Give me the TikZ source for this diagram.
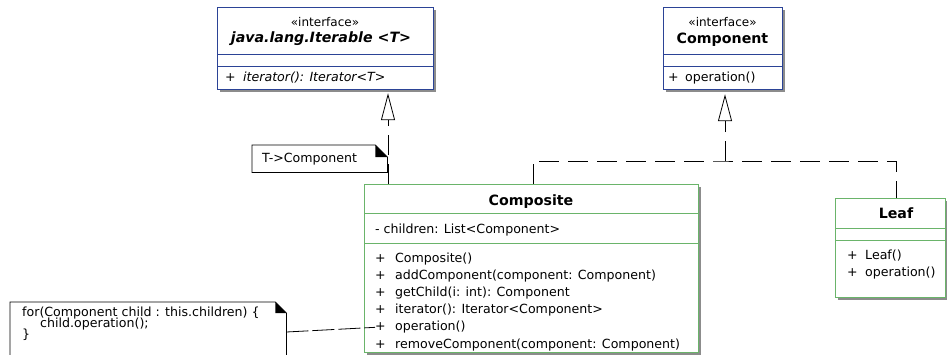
\documentclass[tikz,border=0pt]{standalone}
\usepackage{fontspec}
\setmainfont{DejaVu Sans}
\newfontfamily\umlfont{DejaVu Sans}
\newcommand\umlmember{\umlfont\fontsize{12.6}{14}\selectfont}
\newcommand\umlnotetext{\umlfont\fontsize{12.6}{11}\selectfont}
\newcommand\umltitle{\umlfont\fontsize{14.2}{16}\selectfont\bfseries}
\newcommand\umlstereo{\umlfont\fontsize{12}{13}\selectfont}
\usetikzlibrary{arrows.meta,shadows}
\definecolor{ifblue}{HTML}{2B4396}
\definecolor{clgreen}{HTML}{6AB46A}
\definecolor{shadowgray}{HTML}{8C8C8C}
\begin{document}
\begin{tikzpicture}[x=1pt,y=-1pt,
  ifbox/.style={draw=ifblue, line width=1.2pt, fill=white, inner sep=0pt, anchor=north west,
    drop shadow={shadow xshift=2pt, shadow yshift=-2pt, fill=shadowgray, opacity=1}},
  clbox/.style={draw=clgreen, line width=1.2pt, fill=white, inner sep=0pt, anchor=north west,
    drop shadow={shadow xshift=2pt, shadow yshift=-2pt, fill=shadowgray, opacity=1}},
  ifsep/.style={draw=ifblue, line width=1pt},
  clsep/.style={draw=clgreen, line width=1pt},
  notebox/.style={draw=none, inner sep=0pt, anchor=north west},
  noteoutline/.style={draw=black, line width=0.8pt, fill=white},
  stereo/.style={font=\umlstereo, anchor=base, inner sep=0pt},
  classtitle/.style={font=\umltitle, anchor=base, inner sep=0pt},
  member/.style={font=\umlmember, anchor=base west, inner sep=0pt},
  notetext/.style={font=\umlnotetext, anchor=base west, inner sep=0pt, align=left},
  realize/.style={draw=black, line width=0.8pt, dash pattern=on 20pt off 9pt,
    -{Triangle[open, length=27pt, width=14pt, line width=0.8pt]}},
  plainline/.style={draw=black, line width=0.8pt, dash pattern=on 20pt off 9pt},
  noteline/.style={draw=black, line width=0.8pt, dash pattern=on 22pt off 4pt}
]
\useasboundingbox (0,0) rectangle (947,354);
\clip (0,0) rectangle (947,354);

% ---------- java.lang.Iterable ----------
\node[ifbox, minimum width=216pt, minimum height=82pt] (iter) at (217,7) {};
\draw[ifsep] (iter.west |- 0,54) -- (iter.east |- 0,54);
\draw[ifsep] (iter.west |- 0,66) -- (iter.east |- 0,66);
\node[stereo] (iterS) at (325,26.5) {«interface»};
\node[classtitle] (iterT) at (321,42) {\itshape java.lang.Iterable <T>};
\node[member] (iterM) at (225,81.5) {\makebox[18pt][l]{+}\itshape iterator(): Iterator<T>};

% ---------- Component ----------
\node[ifbox, minimum width=119pt, minimum height=82pt] (compI) at (663,7) {};
\draw[ifsep] (compI.west |- 0,54) -- (compI.east |- 0,54);
\draw[ifsep] (compI.west |- 0,66) -- (compI.east |- 0,66);
\node[stereo] (compS) at (722.5,26.5) {«interface»};
\node[classtitle] (compT) at (722.5,43) {Component};
\node[member] (compM) at (668,81.5) {\makebox[17pt][l]{+}operation()};

% ---------- Composite ----------
\node[clbox, minimum width=334pt, minimum height=168pt] (comp) at (364,184) {};
\draw[clsep] (comp.west |- 0,213) -- (comp.east |- 0,213);
\draw[clsep] (comp.west |- 0,243) -- (comp.east |- 0,243);
\node[classtitle] (compoT) at (531,205) {Composite};
\node[member] (cattr) at (375,233.5) {- children: List<Component>};
\node[member] (cm1) at (375,262) {\makebox[20pt][l]{+}Composite()};
\node[member] (cm2) at (375,279.2) {\makebox[20pt][l]{+}addComponent(component: Component)};
\node[member] (cm3) at (375,296.4) {\makebox[20pt][l]{+}getChild(i: int): Component};
\node[member] (cm4) at (375,313.6) {\makebox[20pt][l]{+}iterator(): Iterator<Component>};
\node[member] (cop) at (375,330.8) {\makebox[20pt][l]{+}operation()};
\node[member] (cm6) at (375,348) {\makebox[20pt][l]{+}removeComponent(component: Component)};

% ---------- Leaf ----------
\node[clbox, minimum width=110pt, minimum height=99pt] (leaf) at (835,198) {};
\draw[clsep] (leaf.west |- 0,228) -- (leaf.east |- 0,228);
\draw[clsep] (leaf.west |- 0,240) -- (leaf.east |- 0,240);
\node[classtitle] (leafT) at (896,218) {Leaf};
\node[member] (lm1) at (847,259) {\makebox[18pt][l]{+}Leaf()};
\node[member] (lm2) at (847,276) {\makebox[18pt][l]{+}operation()};

% ---------- note T->Component ----------
\node[notebox, minimum width=135pt, minimum height=27pt] (n1) at (252,145) {};
\draw[noteoutline] (n1.south west) -- (n1.north west) -- ([xshift=-12pt]n1.north east)
  -- ([yshift=-12pt]n1.north east) -- (n1.south east) -- cycle;
\fill[black] ([xshift=-12pt]n1.north east) -- ([xshift=-12pt,yshift=-12pt]n1.north east)
  -- ([yshift=-12pt]n1.north east) -- cycle;
\node[notetext] (n1t) at (262,162.5) {T->Component};

% ---------- note for(...) ----------
\node[notebox, minimum width=276pt, minimum height=60pt] (n2) at (10,302) {};
\draw[noteoutline] (n2.south west) -- (n2.north west) -- ([xshift=-11pt]n2.north east)
  -- ([yshift=-11pt]n2.north east) -- (n2.south east) -- cycle;
\fill[black] ([xshift=-11pt]n2.north east) -- ([xshift=-11pt,yshift=-11pt]n2.north east)
  -- ([yshift=-11pt]n2.north east) -- cycle;
\node[notetext] (n2a) at (22,316.5) {for(Component child : this.children) \{};
\node[notetext] (n2b) at (40,327.5) {child.operation();};
\node[notetext] (n2c) at (22,338.5) {\}};
\draw[noteline] (n2.east |- 0,332) -- (cop.west);

% ---------- realizations ----------
\coordinate (c1) at (388,184);
\draw[realize] (c1) -- ([yshift=-3pt]c1 |- iter.south);
\coordinate (c2) at (533,184);
\coordinate (jn) at (725,161);
\coordinate (l1) at (896,198);
\draw[plainline] (c2) |- (jn) -| (l1);
\draw[realize] (jn) -- ([yshift=-4pt]jn |- compI.south);
\end{tikzpicture}
\end{document}
